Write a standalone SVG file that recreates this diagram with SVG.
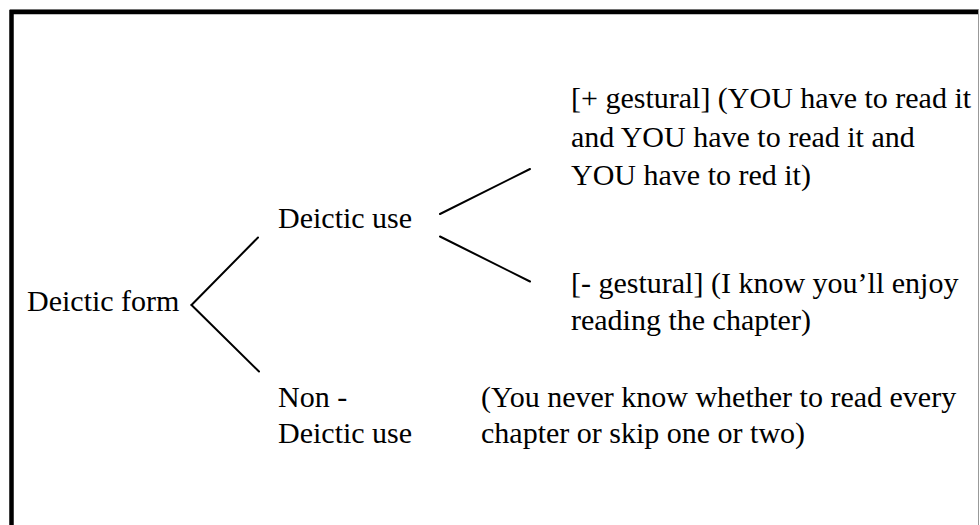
<svg xmlns="http://www.w3.org/2000/svg" width="980" height="525" viewBox="0 0 980 525">
<style>
text{font-family:"Liberation Serif","Times New Roman",serif;font-size:30px;fill:#000}
.c{stroke:#000;stroke-width:2;fill:none;stroke-linecap:round}
</style>
<rect x="0" y="0" width="980" height="525" fill="#fff"/>
<g id="frame">
<line x1="10" y1="9.5" x2="979" y2="9.5" stroke="#999" stroke-width="1"/>
<line x1="978.5" y1="9" x2="978.5" y2="525" stroke="#999" stroke-width="1"/>
<path d="M11.5 530 V12 H978" stroke="#000" stroke-width="4.5" fill="none"/>
</g>
<g id="connectors">
<line class="c" x1="258" y1="237.5" x2="191.5" y2="305"/>
<line class="c" x1="191.5" y1="305" x2="259" y2="371.5"/>
<line class="c" x1="440" y1="214" x2="530" y2="169"/>
<line class="c" x1="440" y1="236.5" x2="530" y2="281.5"/>
</g>
<g id="deictic-form"><text x="27" y="311">Deictic form</text></g>
<g id="deictic-use"><text x="278" y="228">Deictic use</text></g>
<g id="non-deictic-use"><text x="278" y="407">Non -</text><text x="278" y="443">Deictic use</text></g>
<g id="plus-gestural"><text x="571" y="108">[+ gestural] (YOU have to read it</text><text x="571" y="147">and YOU have to read it and</text><text x="571" y="185">YOU have to red it)</text></g>
<g id="minus-gestural"><text x="571" y="293">[- gestural] (I know you’ll enjoy</text><text x="571" y="330">reading the chapter)</text></g>
<g id="non-deictic-example"><text x="481" y="407">(You never know whether to read every</text><text x="481" y="443">chapter or skip one or two)</text></g>
</svg>
